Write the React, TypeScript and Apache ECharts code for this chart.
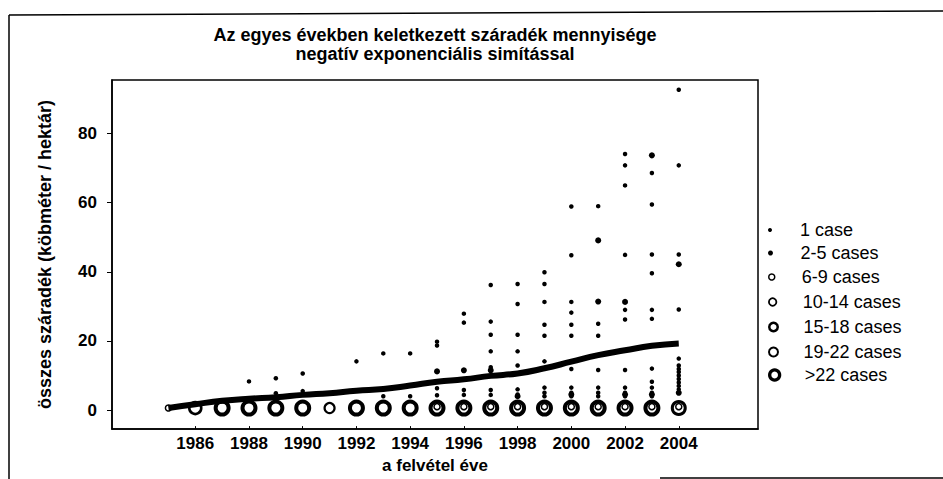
import React, { useEffect, useRef } from 'react';
import * as echarts from 'echarts';

const titleLines = ['Az egyes években keletkezett száradék mennyisége', 'negatív exponenciális simítással'];
const xAxisName = 'a felvétel éve';
const yAxisName = 'összes száradék (köbméter / hektár)';
const xTickLabels = [1986, 1988, 1990, 1992, 1994, 1996, 1998, 2000, 2002, 2004];
const yTickLabels = [0, 20, 40, 60, 80];
const categoryNames = ['1 case', '2-5 cases', '6-9 cases', '10-14 cases', '15-18 cases', '19-22 cases', '>22 cases'];

const smoothYears = [1985, 1986, 1987, 1988, 1989, 1990, 1991, 1992, 1993, 1994, 1995, 1996, 1997, 1998, 1999, 2000, 2001, 2002, 2003, 2004];
const smoothValues = [0.6, 1.7, 2.7, 3.3, 3.7, 4.4, 4.9, 5.6, 6.1, 7.1, 8.2, 8.9, 9.9, 10.6, 12.1, 14.0, 15.9, 17.3, 18.6, 19.3];

const oneCase: [number, number][] = [
  [1988, 8.3],
  [1989, 9.2], [1989, 4.9],
  [1990, 10.6], [1990, 5.5],
  [1992, 14.1], [1992, 5.7],
  [1993, 16.4], [1993, 4.0],
  [1994, 16.4], [1994, 4.0],
  [1995, 19.8], [1995, 18.7], [1995, 6.3], [1995, 4.3],
  [1996, 27.9], [1996, 25.3], [1996, 5.8], [1996, 4.4],
  [1997, 36.2], [1997, 25.6], [1997, 21.8], [1997, 17.0], [1997, 12.4], [1997, 5.8], [1997, 4.4],
  [1998, 36.5], [1998, 30.7], [1998, 21.8], [1998, 17.0], [1998, 12.9], [1998, 6.0], [1998, 4.5],
  [1999, 39.9], [1999, 36.5], [1999, 31.3], [1999, 24.7], [1999, 21.5], [1999, 14.1], [1999, 6.5], [1999, 5.0], [1999, 4.0],
  [2000, 58.9], [2000, 44.8], [2000, 31.3], [2000, 28.2], [2000, 24.7], [2000, 21.5], [2000, 11.9], [2000, 6.5], [2000, 5.0], [2000, 4.0],
  [2001, 59.0], [2001, 25.0], [2001, 21.5], [2001, 11.6], [2001, 6.5], [2001, 5.0], [2001, 4.0],
  [2002, 74.1], [2002, 70.8], [2002, 65.0], [2002, 44.9], [2002, 29.0], [2002, 26.2], [2002, 11.6], [2002, 6.5], [2002, 5.0], [2002, 4.0],
  [2003, 68.6], [2003, 59.5], [2003, 45.0], [2003, 39.6], [2003, 29.0], [2003, 26.4], [2003, 12.0], [2003, 8.2], [2003, 6.5], [2003, 5.0], [2003, 4.0],
  [2004, 92.7], [2004, 70.8], [2004, 45.0], [2004, 29.1], [2004, 14.9], [2004, 12.9], [2004, 11.9], [2004, 11.0], [2004, 10.0], [2004, 9.0], [2004, 8.0], [2004, 7.0], [2004, 6.0]
];
const twoToFive: [number, number][] = [
  [1995, 11.2], [1996, 11.5], [1997, 11.5], [2001, 31.4], [2001, 49.1], [2002, 31.3], [2003, 73.7], [2004, 42.2],
  [1998, 4.0], [2000, 4.5], [2002, 4.5], [2003, 4.5], [2004, 5.0]
];
const sixToNine: [number, number][] = [
  [1985, 0.6], [1995, 1.0], [1996, 1.0], [1997, 1.0], [1998, 1.0], [1999, 1.0], [2000, 1.0], [2001, 1.0], [2002, 1.0], [2003, 1.0], [2004, 1.0]
];
const tenToFourteen: [number, number][] = [[1991, 0.6]];
const fifteenToEighteen: [number, number][] = [[1986, 0.6]];
const nineteenToTwentyTwo: [number, number][] = [[2004, 0.6]];
const overTwentyTwo: [number, number][] = [
  [1987, 0.6], [1988, 0.6], [1989, 0.6], [1990, 0.6], [1992, 0.6], [1993, 0.6], [1994, 0.6], [1995, 0.6],
  [1996, 0.6], [1997, 0.6], [1998, 0.6], [1999, 0.6], [2000, 0.6], [2001, 0.6], [2002, 0.6], [2003, 0.6]
];

const categoryData = [oneCase, twoToFive, sixToNine, tenToFourteen, fifteenToEighteen, nineteenToTwentyTwo, overTwentyTwo];
// plot marker styling: [size, filled, borderWidth]
const markerStyles: [number, boolean, number][] = [
  [4.5, true, 0], [6, true, 0], [6, false, 1.5], [10, false, 2.2], [12, false, 2.6], [13, false, 3], [13, false, 4]
];
// legend icon styling: [size, filled, borderWidth]
const legendIconStyles: [number, boolean, number][] = [
  [4, true, 0], [5, true, 0], [6, false, 1.5], [7.5, false, 1.8], [8.5, false, 2.5], [9, false, 2], [10, false, 3.3]
];
const legendCenters = [230, 253, 277, 302, 327, 352, 375];

const FONT = '"Liberation Sans", Arial, sans-serif';

export default function App() {
  const ref = useRef<HTMLDivElement>(null);
  useEffect(() => {
    if (!ref.current) return;
    const chart = echarts.init(ref.current, null, { renderer: 'svg' });
    const scatterSeries = categoryNames.map((name, i) => {
      const [size, filled, bw] = markerStyles[i];
      return {
        name,
        type: 'scatter',
        data: categoryData[i],
        symbol: 'circle',
        symbolSize: size,
        itemStyle: {
          color: filled ? '#000' : 'rgba(255,255,255,0)',
          borderColor: '#000',
          borderWidth: bw,
          opacity: 1
        },
        emphasis: { disabled: true },
        z: 2
      };
    });
    const legends = categoryNames.map((name, i) => {
      const [size, filled, bw] = legendIconStyles[i];
      return {
        data: [name],
        orient: 'vertical',
        left: 768,
        top: legendCenters[i] - 11,
        padding: 0,
        itemWidth: 50,
        itemHeight: size,
        icon: 'circle',
        selectedMode: false,
        itemStyle: {
          color: filled ? '#000' : '#fff',
          borderColor: '#000',
          borderWidth: bw
        },
        textStyle: { fontFamily: FONT, fontSize: 18, color: '#000', lineHeight: 22 }
      };
    });
    const option: any = {
      animation: false,
      backgroundColor: '#fff',
      grid: { left: 112, right: 185, top: 80, bottom: 48, show: true, borderColor: '#000', borderWidth: 1.5, backgroundColor: 'transparent' },
      legend: legends,
      xAxis: {
        type: 'value',
        min: 1982.9,
        max: 2006.95,
        name: xAxisName,
        nameLocation: 'middle',
        nameGap: 23,
        nameTextStyle: { fontFamily: FONT, fontWeight: 'bold', fontSize: 17, color: '#000', verticalAlign: 'top' },
        axisLine: { show: true, onZero: false, lineStyle: { color: '#000', width: 1.5 } },
        axisTick: { show: true, inside: true, length: 3, customValues: xTickLabels, lineStyle: { color: '#000' } },
        axisLabel: { customValues: xTickLabels, margin: 6, fontFamily: FONT, fontWeight: 'bold', fontSize: 17, color: '#000', formatter: (v: number) => String(v) },
        splitLine: { show: false }
      },
      yAxis: {
        type: 'value',
        min: -5.5,
        max: 95.5,
        name: yAxisName,
        nameLocation: 'middle',
        nameGap: 58,
        nameRotate: 90,
        nameTextStyle: { fontFamily: FONT, fontWeight: 'bold', fontSize: 18, color: '#000' },
        axisLine: { show: true, onZero: false, lineStyle: { color: '#000', width: 1.5 } },
        axisTick: { show: true, inside: false, length: 5, customValues: yTickLabels, lineStyle: { color: '#000' } },
        axisLabel: { customValues: yTickLabels, margin: 15, fontFamily: FONT, fontWeight: 'bold', fontSize: 17, color: '#000' },
        splitLine: { show: false }
      },
      graphic: [
        { type: 'line', shape: { x1: 9, y1: 15, x2: 943, y2: 11 }, style: { stroke: '#000', lineWidth: 1.5 } },
        { type: 'line', shape: { x1: 9, y1: 15, x2: 9, y2: 479 }, style: { stroke: '#000', lineWidth: 1.5 } },
        { type: 'line', shape: { x1: 660, y1: 478, x2: 943, y2: 478 }, style: { stroke: '#000', lineWidth: 1.5 } },
        { type: 'text', x: 435, y: 35, style: { text: titleLines[0], textAlign: 'center', textVerticalAlign: 'middle', font: 'bold 18px ' + FONT, fill: '#000' } },
        { type: 'text', x: 435, y: 54, style: { text: titleLines[1], textAlign: 'center', textVerticalAlign: 'middle', font: 'bold 18px ' + FONT, fill: '#000' } }
      ],
      series: [
        ...scatterSeries,
        {
          name: 'simítás',
          type: 'line',
          data: smoothYears.map((y, i) => [y, smoothValues[i]]),
          smooth: true,
          symbol: 'none',
          lineStyle: { color: '#000', width: 6 },
          emphasis: { disabled: true },
          z: 3
        }
      ]
    };
    chart.setOption(option);
    return () => chart.dispose();
  }, []);
  return <div ref={ref} style={{ position: 'absolute', left: 0, top: 0, width: 943, height: 479, background: '#fff' }} />;
}
